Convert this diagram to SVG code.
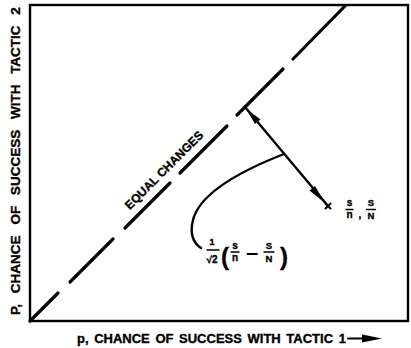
<svg xmlns="http://www.w3.org/2000/svg" width="411" height="348" viewBox="0 0 411 348">
<style>
.lbl{font-family:"Liberation Sans",Arial,sans-serif;font-weight:bold;fill:#000;stroke:#000;stroke-width:0.35}
.ln{stroke:#000;stroke-linecap:round;fill:none}
</style>
<rect width="411" height="348" fill="#fff"/>
<g id="frame">
<rect x="30" y="5" width="378" height="316" fill="none" stroke="#000" stroke-width="2.4"/>
</g>
<g id="equal-line" class="ln" stroke-width="3.2">
<line x1="30" y1="321" x2="58" y2="293"/>
<line x1="70" y1="282" x2="113" y2="239"/>
<line x1="125" y1="228" x2="170" y2="183"/>
<line x1="180" y1="173" x2="227" y2="126"/>
<line x1="237" y1="115" x2="283" y2="69"/>
<line x1="293" y1="59" x2="345" y2="6"/>
</g>
<g id="equal-label">
<text class="lbl" font-size="12" text-anchor="middle" transform="translate(167,173) rotate(-45)">EQUAL CHANGES</text>
</g>
<g id="connectors">
<line class="ln" x1="245" y1="107" x2="328" y2="206" stroke-width="2.4"/>
<polygon points="246,108.5 255,124 260.5,119.5" fill="#000"/>
<polygon points="325,203 309.5,190.5 315,186" fill="#000"/>
<path class="ln" d="M284,154 C243,170 200,192 193,220 C189,236 195,244 201,248" stroke-width="2.4"/>
</g>
<g id="point">
<line class="ln" x1="325.5" y1="203.5" x2="330.5" y2="208.5" stroke-width="2"/>
<line class="ln" x1="330.5" y1="203.5" x2="325.5" y2="208.5" stroke-width="2"/>
<g class="lbl" text-anchor="middle">
<text x="349.5" y="206" font-size="10">s</text>
<text x="349.5" y="218" font-size="10">n</text>
<text x="360" y="218" font-size="10">,</text>
<text x="371" y="206" font-size="9.5">S</text>
<text x="371" y="218.5" font-size="9.5">N</text>
</g>
<line class="ln" x1="346" y1="209.5" x2="353" y2="209.5" stroke-width="1.4"/>
<line class="ln" x1="366.5" y1="209.5" x2="375.5" y2="209.5" stroke-width="1.4"/>
</g>
<g id="distance-label">
<g class="lbl" text-anchor="middle">
<text x="212" y="245" font-size="9">1</text>
<text x="212" y="263" font-size="10">√2</text>
<text x="235" y="249" font-size="10">s</text>
<text x="235" y="261" font-size="10">n</text>
<text x="269" y="249" font-size="9.5">S</text>
<text x="269" y="262" font-size="9.5">N</text>
</g>
<text class="lbl" x="225" y="265" font-size="24" text-anchor="middle">(</text>
<text class="lbl" x="284" y="265" font-size="24" text-anchor="middle">)</text>
<line class="ln" x1="207" y1="250" x2="219" y2="250" stroke-width="1.4"/>
<line class="ln" x1="231" y1="252" x2="239" y2="252" stroke-width="1.4"/>
<line class="ln" x1="247.5" y1="254" x2="257" y2="254" stroke-width="1.8"/>
<line class="ln" x1="264" y1="252" x2="274" y2="252" stroke-width="1.4"/>
</g>
<g id="axis-labels">
<text class="lbl" x="77" y="343" font-size="13" word-spacing="2">p, CHANCE OF SUCCESS WITH TACTIC 1</text>
<line class="ln" x1="348" y1="338.5" x2="366" y2="338.5" stroke-width="2.2"/>
<polygon points="362,334.5 382,338.5 362,342.5" fill="#000"/>
<text class="lbl" font-size="13.5" word-spacing="7" text-anchor="middle" transform="translate(20,161) rotate(-90)">P, CHANCE OF SUCCESS WITH TACTIC 2</text>
</g>
</svg>
